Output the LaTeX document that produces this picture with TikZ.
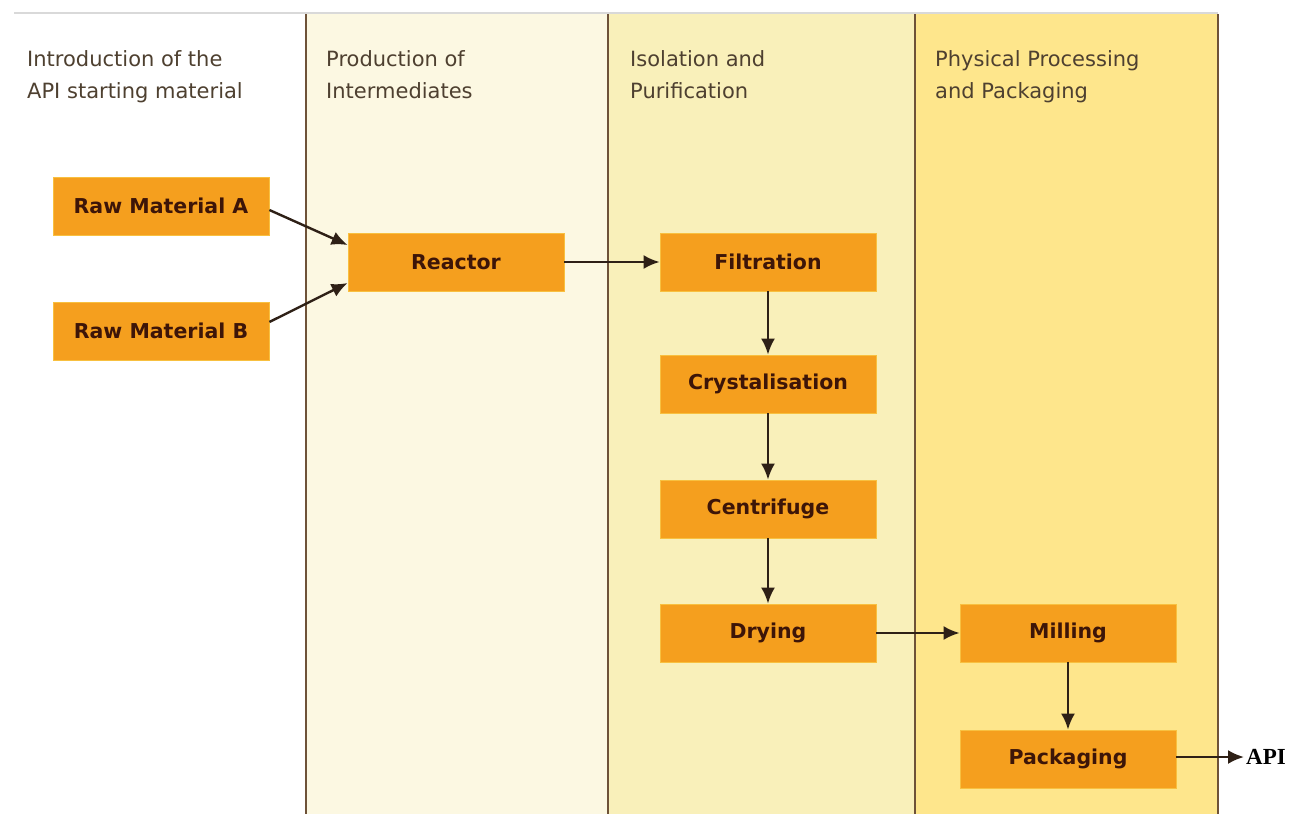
\documentclass[tikz,border=0pt]{standalone}
\usepackage{fontspec}
\setmainfont{Liberation Serif}
\newfontfamily\hdrfont{DejaVu Sans}
\usetikzlibrary{arrows.meta}
\definecolor{laneB}{HTML}{FCF8E2}
\definecolor{laneC}{HTML}{F9F0BA}
\definecolor{laneD}{HTML}{FEE68C}
\definecolor{boxfill}{HTML}{F59F1E}
\definecolor{boxedge}{HTML}{F8C040}
\definecolor{divider}{HTML}{6E5238}
\definecolor{txt}{HTML}{3D1508}
\definecolor{hdrtxt}{HTML}{4E4030}
\definecolor{arr}{HTML}{2E2016}
\tikzset{
  stepbox/.style={rectangle, fill=boxfill, draw=boxedge, line width=0.8pt,
    minimum width=216pt, minimum height=58pt, inner sep=0pt,
    font=\hdrfont\bfseries\fontsize{20.5}{22}\selectfont, text=txt},
  header/.style={anchor=north west, align=left, inner sep=0pt,
    font=\hdrfont\fontsize{21}{32}\selectfont, text=hdrtxt},
  flow/.style={draw=arr, line width=2.4pt, -{Latex[length=16pt,width=14pt]}},
  divline/.style={draw=divider, line width=2.4pt}
}
\begin{document}
\begin{tikzpicture}[x=1pt,y=-1pt]
\useasboundingbox (0,0) rectangle (1293,814);
\fill[white] (0,0) rectangle (1293,814);
% lanes
\fill[laneB] (306,14) rectangle (608,814);
\fill[laneC] (608,14) rectangle (915,814);
\fill[laneD] (915,14) rectangle (1218,814);
\draw[line width=2pt, draw=black!15] (14,13) -- (1218,13);
\draw[divline] (306,14) -- (306,814);
\draw[divline] (608,14) -- (608,814);
\draw[divline] (915,14) -- (915,814);
\draw[divline] (1218,14) -- (1218,814);
% headers
\node[header] (h1) at (27,50) {Introduction of the\\API starting material};
\node[header] (h2) at (326,50) {Production of\\Intermediates};
\node[header] (h3) at (630,50) {Isolation and\\Purification};
\node[header] (h4) at (935,50) {Physical Processing\\and Packaging};
% boxes
\node[stepbox] (rma) at (161,206) {Raw Material A};
\node[stepbox] (rmb) at (161,331) {Raw Material B};
\node[stepbox] (reac) at (456,262) {Reactor};
\node[stepbox] (filt) at (768,262) {Filtration};
\node[stepbox] (crys) at (768,384) {Crystalisation};
\node[stepbox] (cent) at (768,509) {Centrifuge};
\node[stepbox] (dry) at (768,633) {Drying};
\node[stepbox] (mill) at (1068,633) {Milling};
\node[stepbox] (pack) at (1068,759) {Packaging};
\node[anchor=west, inner sep=0pt, font=\bfseries\fontsize{23}{24}\selectfont, text=black] (api) at (1246,757) {API};
% connectors
\draw[flow] ([yshift=-4pt]rma.east) -- ([yshift=17pt]reac.west);
\draw[flow] ([yshift=9pt]rmb.east) -- ([yshift=-21pt]reac.west);
\draw[flow] (reac) -- (filt);
\draw[flow] (filt) -- (crys);
\draw[flow] (crys) -- (cent);
\draw[flow] (cent) -- (dry);
\draw[flow] (dry) -- (mill);
\draw[flow] (mill) -- (pack);
\draw[flow] ([yshift=2pt]pack.east) -- ([xshift=-2pt]api.west);
\end{tikzpicture}
\end{document}
